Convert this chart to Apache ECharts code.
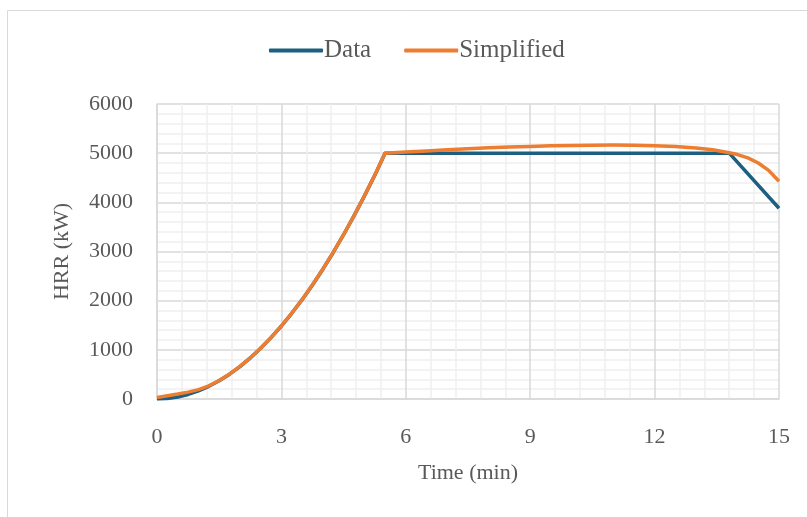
<!DOCTYPE html>
<html><head><meta charset="utf-8">
<script src="https://cdn.jsdelivr.net/npm/echarts@6/dist/echarts.min.js"></script>
<style>html,body{margin:0;padding:0;background:#fff}#c{width:807px;height:517px}</style>
</head><body><div id="c"></div>
<script>
const seriesNames = ['Data', 'Simplified'];
const dataTime = [0,0.25,0.5,0.75,1,1.25,1.5,1.75,2,2.25,2.5,2.75,3,3.25,3.5,3.75,4,4.25,4.5,4.75,5,5.25,5.5,13.8,15];
const dataHRR  = [0,10,41,93,165,258,371,505,660,835,1031,1248,1485,1743,2021,2320,2640,2980,3341,3723,4125,4548,5000,5000,3880];
const simpTime = [0,0.25,0.5,0.75,1,1.25,1.5,1.75,2,2.25,2.5,2.75,3,3.25,3.5,3.75,4,4.25,4.5,4.75,5,5.25,5.5,6,6.5,7,7.5,8,8.5,9,9.5,10,10.5,11,11.5,12,12.5,13,13.4,13.8,14,14.25,14.5,14.75,15];
const simpHRR  = [30,65,100,140,190,268,375,508,663,838,1034,1251,1488,1746,2024,2323,2643,2983,3344,3726,4128,4551,5000,5025,5045,5068,5090,5108,5124,5138,5149,5157,5162,5165,5162,5153,5137,5107,5068,5008,4972,4905,4800,4650,4430];
const xTicks = [0,3,6,9,12,15];
const yTicks = [0,1000,2000,3000,4000,5000,6000];

const font = 'Liberation Serif';
const chart = echarts.init(document.getElementById('c'));
const zip = (a,b)=>a.map((v,i)=>[v,b[i]]);
chart.setOption({
  animation:false,
  graphic:[{type:'rect',shape:{x:7.5,y:10.5,width:820,height:520},style:{fill:'none',stroke:'#d9d9d9',lineWidth:1},silent:true}],
  legend:{top:38,left:269,padding:0,itemWidth:54,itemHeight:4,itemGap:33,icon:'roundRect',
    textStyle:{fontFamily:font,fontSize:25,color:'#595959',padding:[0,0,0,-4]},
    data:seriesNames},
  grid:{left:157,right:28,top:104,bottom:118},
  xAxis:{type:'value',min:0,max:15,interval:3,
    name:'Time (min)',nameLocation:'middle',nameGap:63,
    nameTextStyle:{fontFamily:font,fontSize:22,color:'#595959'},
    axisLine:{show:true,lineStyle:{color:'#d9d9d9',width:1.5}},
    axisTick:{show:false},
    axisLabel:{fontFamily:font,fontSize:22,color:'#595959',margin:27,formatter:v=>xTicks.includes(v)?String(v):''},
    splitLine:{show:true,lineStyle:{color:'#d9d9d9',width:1.5}},
    minorTick:{show:false,splitNumber:5},
    minorSplitLine:{show:true,lineStyle:{color:'#f0f0f0',width:1.5}}},
  yAxis:{type:'value',min:0,max:6000,interval:1000,
    name:'HRR (kW)',nameLocation:'middle',nameGap:84,
    nameTextStyle:{fontFamily:font,fontSize:22,color:'#595959'},
    axisLine:{show:true,lineStyle:{color:'#d9d9d9',width:1.5}},
    axisTick:{show:false},
    axisLabel:{fontFamily:font,fontSize:22,color:'#595959',margin:24,formatter:v=>yTicks.includes(v)?String(v):''},
    splitLine:{show:true,lineStyle:{color:'#d9d9d9',width:1.5}},
    minorTick:{show:false,splitNumber:5},
    minorSplitLine:{show:true,lineStyle:{color:'#f0f0f0',width:1.5}}},
  series:[
    {name:seriesNames[0],type:'line',data:zip(dataTime,dataHRR),smooth:false,showSymbol:false,
     lineStyle:{color:'#1c5f80',width:3.5,join:'round'},itemStyle:{color:'#1c5f80'},z:2},
    {name:seriesNames[1],type:'line',data:zip(simpTime,simpHRR),smooth:false,showSymbol:false,
     lineStyle:{color:'#ed7d31',width:3.5,join:'round'},itemStyle:{color:'#ed7d31'},z:3}
  ]
});
</script></body></html>
